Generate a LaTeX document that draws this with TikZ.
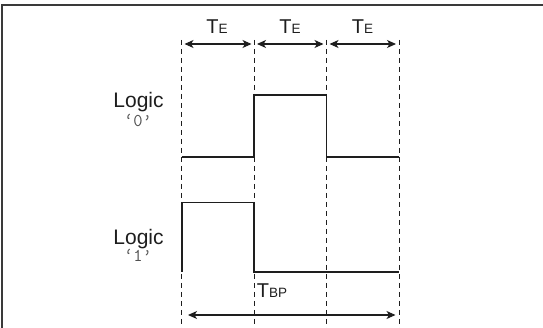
\documentclass[tikz,border=0pt]{standalone}
\usepackage{fontspec}
\setmainfont{Liberation Sans}
\usetikzlibrary{arrows.meta}
\definecolor{framegray}{HTML}{3A3A3A}
\definecolor{inkblack}{HTML}{1E1E1E}
\definecolor{quotegray}{HTML}{505050}
\newcommand{\tsub}[2]{{\fontsize{20}{20}\selectfont #1}{\fontsize{13.5}{13}\selectfont #2}}
\begin{document}
\begin{tikzpicture}[x=1pt,y=-1pt,
  frameline/.style={draw=framegray,line width=1.3pt},
  guide/.style={draw=inkblack,line width=0.9pt,dash pattern=on 5pt off 4pt},
  wave/.style={draw=inkblack,line width=1.7pt},
  dimarrow/.style={draw=inkblack,line width=1.1pt,{Stealth[length=9pt,width=8pt,inset=2.5pt]}-{Stealth[length=9pt,width=8pt,inset=2.5pt]}},
  lbl/.style={inner sep=0pt,anchor=base,text=inkblack},
  biglbl/.style={lbl,font=\fontsize{21}{21}\selectfont},
  qlbl/.style={inner sep=0pt,anchor=base,text=quotegray,font=\ttfamily\fontsize{18}{18}\selectfont}]
\useasboundingbox (0,0) rectangle (543,328);
% frame
\draw[frameline] (2,340) -- (2,5) -- (560,5);
% guide lines
\foreach \n/\x in {a/181.7,b/254,c/326.5,d/399}{
  \coordinate (\n top) at (\x,40);
  \coordinate (\n bot) at (\x,328);
  \draw[guide] (\n top) -- (\n bot);
}
% TE arrows
\coordinate (e1l) at (184.5,44); \coordinate (e1r) at (251.5,44);
\coordinate (e2l) at (257,44);   \coordinate (e2r) at (323.5,44);
\coordinate (e3l) at (329.5,44); \coordinate (e3r) at (396,44);
\draw[dimarrow] (e1l) -- (e1r);
\draw[dimarrow] (e2l) -- (e2r);
\draw[dimarrow] (e3l) -- (e3r);
\node[lbl] (te1) at (217,34) {\tsub{T}{E}};
\node[lbl] (te2) at (290,34) {\tsub{T}{E}};
\node[lbl] (te3) at (362.5,34) {\tsub{T}{E}};
% Logic 0
\node[biglbl] (l0) at (138.5,108) {Logic};
\node[qlbl] (q0) at (138,127) {‘0’};
\draw[wave] (181.7,157) -- (254,157) -- (254,95) -- (326.5,95) -- (326.5,157) -- (399,157);
% Logic 1
\node[biglbl] (l1) at (138.5,245) {Logic};
\node[qlbl] (q1) at (138,262) {‘1’};
\draw[wave] (181.7,272) -- (181.7,202.5) -- (254,202.5) -- (254,272) -- (399,272);
% TBP
\node[lbl] (tbp) at (272,298) {\tsub{T}{BP}};
\coordinate (bpl) at (188,315); \coordinate (bpr) at (395.5,315);
\draw[dimarrow] (bpl) -- (bpr);
\end{tikzpicture}
\end{document}
